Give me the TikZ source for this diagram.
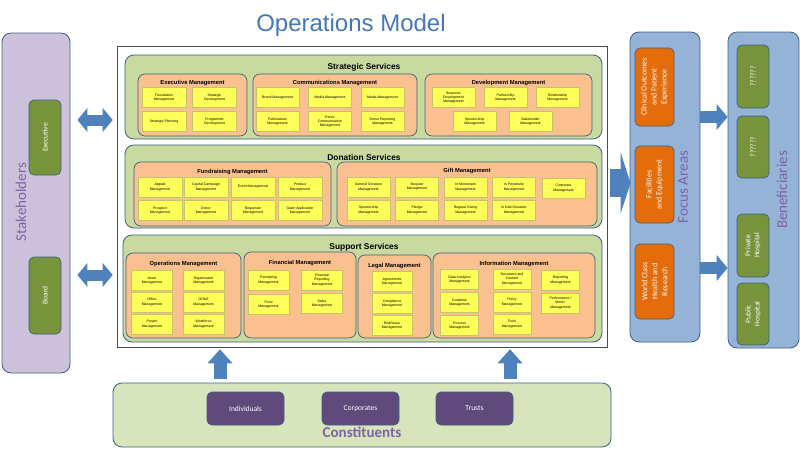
\documentclass[tikz,border=0pt]{standalone}
\usepackage{fontspec}
\setmainfont{Liberation Sans}
\newfontfamily\calfont{Carlito}
\usetikzlibrary{arrows.meta}

\definecolor{edgeblue}{HTML}{3F5F80}
\definecolor{secgreen}{HTML}{C8DAA0}
\definecolor{constgreen}{HTML}{D7E4BC}
\definecolor{grouporange}{HTML}{FAC08F}
\definecolor{taskyellow}{HTML}{FFFF5A}
\definecolor{taskline}{HTML}{C4C46A}
\definecolor{stakelilac}{HTML}{CCC1DA}
\definecolor{olivegreen}{HTML}{77933C}
\definecolor{focusblue}{HTML}{95B3D7}
\definecolor{focusorange}{HTML}{E46C0A}
\definecolor{constpurple}{HTML}{604A7B}
\definecolor{labelpurple}{HTML}{7F62A8}
\definecolor{arrowblue}{HTML}{4F81BD}
\definecolor{titleblue}{HTML}{4676BA}

\tikzset{
  section/.style={draw=edgeblue, fill=secgreen, rounded corners=9pt, line width=0.8pt, inner sep=0pt},
  group/.style={draw=edgeblue, fill=grouporange, rounded corners=7pt, line width=0.7pt, inner sep=0pt},
  task/.style={draw=taskline, fill=taskyellow, line width=0.3pt, align=center, inner sep=0pt,
    minimum width=43pt, minimum height=20pt, font=\fontsize{3.5}{4.3}\selectfont},
  sectitle/.style={font=\fontsize{8.4}{10}\selectfont\bfseries},
  grouptitle/.style={font=\fontsize{5.8}{7}\selectfont\bfseries},
  sidebox/.style={draw=edgeblue, rounded corners=9pt, line width=0.8pt, inner sep=0pt},
  sidelabel/.style={font=\calfont\fontsize{15}{18}\selectfont, text=labelpurple, rotate=90},
  member/.style={draw=edgeblue, fill=olivegreen, rounded corners=5pt, line width=0.7pt, rotate=90,
    text=white, align=center, inner sep=0pt, font=\calfont\fontsize{7.5}{9}\selectfont},
  area/.style={member, fill=focusorange, font=\calfont\fontsize{8}{10}\selectfont},
  donor/.style={draw=edgeblue, fill=constpurple, rounded corners=5pt, line width=0.7pt, text=white,
    minimum width=77pt, minimum height=33pt, font=\calfont\fontsize{7.5}{9}\selectfont},
  twoway/.style={draw=arrowblue, line width=11pt,
    >={Triangle[length=10pt 0 0, width=24pt 0 0, line width=0pt]}, <->},
  upway/.style={draw=arrowblue, line width=13pt,
    -{Triangle[length=14pt 0 0, width=25pt 0 0, line width=0pt]}},
  bigway/.style={draw=arrowblue, line width=28pt,
    -{Triangle[length=10pt 0 0, width=61pt 0 0, line width=0pt]}},
  oneway/.style={draw=arrowblue, line width=12pt,
    -{Triangle[length=11pt 0 0, width=26pt 0 0, line width=0pt]}}
}

\begin{document}
\begin{tikzpicture}[x=1pt, y=-1pt]
\useasboundingbox (0,0) rectangle (800,450);

% Title
\node[font=\fontsize{24}{28}\selectfont, text=titleblue] (title) at (351,25) {Operations Model};

% Stakeholders
\node[sidebox, fill=stakelilac, minimum width=68pt, minimum height=340pt] (stake) at (36,203) {};
\node[sidelabel] (stake-t) at (21,202) {Stakeholders};
\node[member, minimum width=75pt, minimum height=32pt] (exec) at (45,137.5) {Executive};
\node[member, minimum width=77pt, minimum height=32pt] (board) at (45,295.5) {Board};

% Frame
\node[draw=gray!60!black, fill=white, line width=0.6pt, minimum width=490pt, minimum height=301pt, inner sep=0pt] (frame) at (362,196.5) {};

% Strategic Services
\node[section, minimum width=477pt, minimum height=84pt] (strat) at (363.5,97) {};
\node[sectitle] (strat-t) at (364,67) {Strategic Services};

\node[group, minimum width=109pt, minimum height=62pt] (exm) at (192.5,105) {};
\node[grouptitle] (exm-t) at (192.5,83) {Executive Management};
\foreach \id/\x/\y/\txt in {1/164/97.5/{Foundation\\Management}, 2/214.5/97.5/{Strategic\\Development},
    3/164/121.5/{Strategic Planning}, 4/214.5/121.5/{Programme\\Development}}
  \node[task, minimum width=44pt] (exm\id) at (\x,\y) {\txt};

\node[group, minimum width=164pt, minimum height=62pt] (com) at (335,105) {};
\node[grouptitle] (com-t) at (335,83) {Communications Management};
\foreach \id/\x/\y/\txt in {1/277.5/97.5/{Brand Management}, 2/330/97.5/{Media Management},
    3/382.5/97.5/{Media Management}, 4/277.5/121.5/{Publications\\Management},
    5/330/121.5/{Donor\\Communication\\Management}, 6/382.5/121.5/{Donor Reporting\\Management}}
  \node[task] (com\id) at (\x,\y) {\txt};

\node[group, minimum width=167pt, minimum height=62pt] (dev) at (508.5,105) {};
\node[grouptitle] (dev-t) at (508.5,83) {Development Management};
\foreach \id/\x/\y/\txt in {1/453.5/97.5/{Business\\Development\\Management}, 2/505.5/97.5/{Partnership\\Management},
    3/557.5/97.5/{Relationship\\Management}, 4/474.5/121.5/{Sponsorship\\Management},
    5/530.5/121.5/{Stakeholder\\Management}}
  \node[task] (dev\id) at (\x,\y) {\txt};

% Donation Services
\node[section, minimum width=477pt, minimum height=83pt] (don) at (363.5,186.5) {};
\node[sectitle] (don-t) at (364,157) {Donation Services};

\node[group, minimum width=197pt, minimum height=64pt] (fund) at (232.5,194) {};
\node[grouptitle] (fund-t) at (232.5,172) {Fundraising Management};
\foreach \id/\x/\y/\txt in {1/160/187/{Appeal\\Management}, 2/206/187/{Capital Campaign\\Management},
    3/253/187/{Event Management}, 4/300/187/{Product\\Management},
    5/160/210.5/{Prospect\\Management}, 6/206/210.5/{Donor\\Management},
    7/253/210.5/{Bequestor\\Management}, 8/300/210.5/{Grant Application\\Management}}
  \node[task, minimum width=44pt] (fund\id) at (\x,\y) {\txt};

\node[group, minimum width=260pt, minimum height=64pt] (gift) at (467,194) {};
\node[grouptitle] (gift-t) at (467,171) {Gift Management};
\foreach \id/\x/\y/\txt in {1/368.5/187/{General Donation\\Management}, 2/417/187/{Bequest\\Management},
    3/465.5/187/{In Memoriam\\Management}, 4/514/187/{In Perpetuity\\Management},
    5/563.5/188/{Corporate\\Management}, 6/368.5/210/{Sponsorship\\Management},
    7/417/210/{Pledge\\Management}, 8/465.5/210/{Regular Giving\\Management},
    9/514/210/{In kind Donation\\Management}}
  \node[task] (gift\id) at (\x,\y) {\txt};

% Support Services
\node[section, minimum width=479pt, minimum height=107pt] (sup) at (362.5,288.5) {};
\node[sectitle] (sup-t) at (364,247) {Support Services};

\node[group, minimum width=115pt, minimum height=85pt] (ops) at (183.5,295.5) {};
\node[grouptitle] (ops-t) at (183.5,264) {Operations Management};
\foreach \id/\x/\y/\txt in {1/152/280.5/{Asset\\Management}, 2/152/302/{Office\\Management},
    3/152/324/{Project\\Management}, 4/203.5/280.5/{Organisation\\Management},
    5/203.5/302/{OH\&S\\Management}, 6/203.5/324/{Workforce\\Management}}
  \node[task, minimum width=41pt] (ops\id) at (\x,\y) {\txt};

\node[group, minimum width=112pt, minimum height=86pt] (fin) at (300,295) {};
\node[grouptitle] (fin-t) at (300,263) {Financial Management};
\foreach \id/\x/\y/\txt in {1/268.5/280/{Receipting\\Management}, 2/268.5/304.5/{Fund\\Management},
    3/322/280/{Financial\\Reporting\\Management}, 4/322/303.5/{Sales\\Management}}
  \node[task, minimum width=41pt] (fin\id) at (\x,\y) {\txt};

\node[group, minimum width=73pt, minimum height=83pt] (leg) at (394.5,296.5) {};
\node[grouptitle] (leg-t) at (394.5,266) {Legal Management};
\foreach \id/\x/\y/\txt in {1/392/281.5/{Agreements\\Management}, 2/392/303.5/{Compliance\\Management},
    3/392/325.5/{Risk/Issue\\Management}}
  \node[task, minimum width=40pt] (leg\id) at (\x,\y) {\txt};

\node[group, minimum width=162pt, minimum height=85pt] (info) at (514,295.5) {};
\node[grouptitle] (info-t) at (514,264) {Information Management};
\foreach \id/\x/\y/\txt in {1/459.5/279.5/{Data Analytics\\Management}, 2/459.5/302.5/{Guideline\\Management},
    3/459.5/325.5/{Process\\Management}, 4/512/279/{Document and\\Content\\Management},
    5/512/302/{Policy\\Management}, 6/512/324/{Tools\\Management},
    7/560.5/280/{Reporting\\Management}, 8/560.5/303/{Performance /\\Metric\\Management}}
  \node[task, minimum width=38pt] (info\id) at (\x,\y) {\txt};

% Constituents
\node[section, fill=constgreen, minimum width=498pt, minimum height=64pt] (constit) at (362,415) {};
\node[donor] (indiv) at (245.5,408.5) {Individuals};
\node[donor] (corp) at (360.5,408.5) {Corporates};
\node[donor] (trusts) at (474.5,408.5) {Trusts};
\node[font=\calfont\fontsize{15}{18}\selectfont\bfseries, text=labelpurple] (constit-t) at (362,432) {Constituents};

% Focus Areas
\node[sidebox, fill=focusblue, minimum width=70pt, minimum height=310pt] (focus) at (665,187) {};
\node[area, minimum width=78pt, minimum height=39pt] (clin) at (654.5,87) {Clinical Outcomes\\and Patient\\Experience};
\node[area, minimum width=77pt, minimum height=39pt] (facil) at (654.5,184.5) {Facilities\\and Equipment};
\node[area, minimum width=75pt, minimum height=39pt] (world) at (654.5,281.5) {World Class\\Health and\\Research};
\node[sidelabel] (focus-t) at (683,187) {Focus Areas};

% Beneficiaries
\node[sidebox, fill=focusblue, minimum width=71pt, minimum height=316pt] (benef) at (763.5,190) {};
\node[member, minimum width=63pt, minimum height=32pt] (unk1) at (753,76.5) {??????};
\node[member, minimum width=62pt, minimum height=32pt] (unk2) at (753,147) {??????};
\node[member, minimum width=63pt, minimum height=32pt] (priv) at (753,245.5) {Private\\Hospital};
\node[member, minimum width=62pt, minimum height=32pt] (pub) at (753,314) {Public\\Hospital};
\node[sidelabel] (benef-t) at (782,190) {Beneficiaries};

% Arrows
\coordinate (s1) at (0,120);
\coordinate (s2) at (0,275);
\coordinate (c1) at (220,0);
\coordinate (c2) at (510,0);
\coordinate (f1) at (0,183);
\coordinate (b1) at (0,117);
\coordinate (b2) at (0,268);
\draw[twoway] ([xshift=7pt]stake.east |- s1) -- ([xshift=-4pt]frame.west |- s1);
\draw[twoway] ([xshift=7pt]stake.east |- s2) -- ([xshift=-4pt]frame.west |- s2);
\draw[upway] ([yshift=4pt]constit.north -| c1) -- ([yshift=-2pt]frame.south -| c1);
\draw[upway] ([yshift=4pt]constit.north -| c2) -- ([yshift=-2pt]frame.south -| c2);
\draw[bigway] ([xshift=3pt]frame.east |- f1) -- ([xshift=1pt]focus.west |- f1);
\draw[oneway] (focus.east |- b1) -- (benef.west |- b1);
\draw[oneway] (focus.east |- b2) -- (benef.west |- b2);

\end{tikzpicture}
\end{document}
